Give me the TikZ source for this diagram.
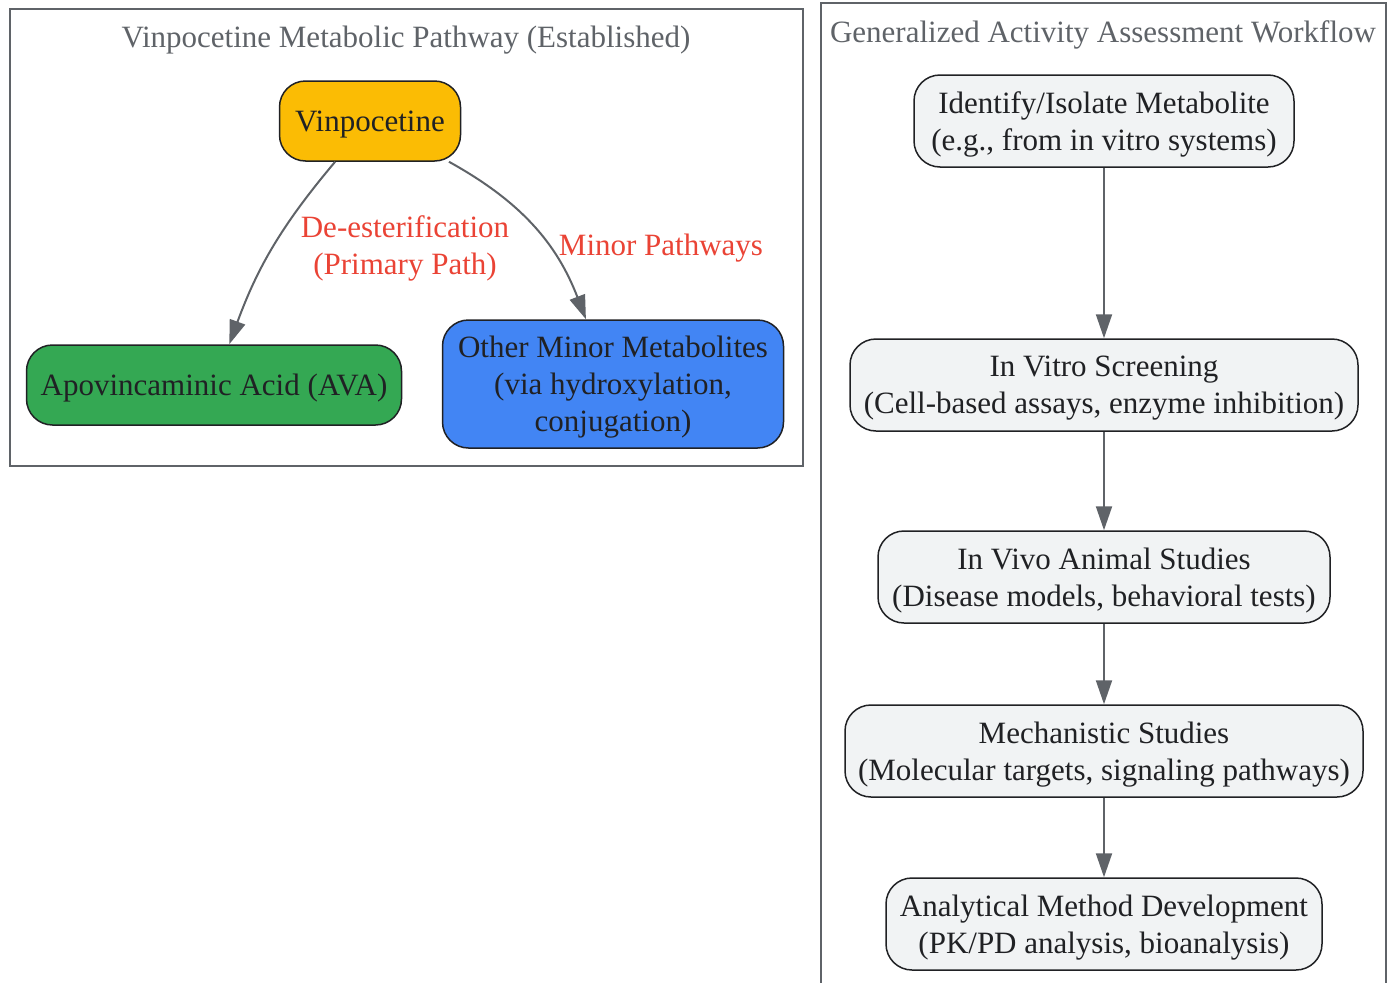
\documentclass[tikz,border=0pt]{standalone}
\usepackage{fontspec}
\setmainfont{Liberation Serif}
\usepackage{xcolor}
\usepackage{tikz}
\usetikzlibrary{arrows.meta}
\definecolor{vyellow}{HTML}{FBBC04}
\definecolor{vgreen}{HTML}{34A853}
\definecolor{vblue}{HTML}{4285F4}
\definecolor{vred}{HTML}{EA4335}
\definecolor{vgray}{HTML}{5F6368}
\definecolor{vpaper}{HTML}{F1F3F4}
\definecolor{vink}{HTML}{202124}
\newcommand{\bigfont}{\fontsize{31}{37}\selectfont}

\begin{document}
\begin{tikzpicture}[x=1pt,y=-1pt,
		box/.style={draw=vink, line width=1.5pt, rounded corners=26pt, align=center, text=vink, font=\bigfont, inner sep=0pt, text depth=0pt},
		wbox/.style={box, fill=vpaper, minimum height=92pt},
		arr/.style={draw=vgray, line width=2pt, -{Triangle[length=24pt,width=16pt]}},
		lbl/.style={text=vred, align=center, font=\bigfont, text depth=0pt},
		ttl/.style={text=vgray, font=\bigfont, text depth=0pt},
		clus/.style={draw=vgray, line width=2pt}]
			\useasboundingbox (0,0) rectangle (1393,983);
			% Vẽ khung
			\draw[clus] (10,9) rectangle (803,466);
			\draw[clus] (821,983) |- (1386,3) -- (1386,983);
			\node[ttl] (t1) at (406,37) {Vinpocetine Metabolic Pathway (Established)};
			\node[ttl] (t2) at (1103,32) {Generalized Activity Assessment Workflow};
			% Vẽ các nút bên trái
			\node[box, fill=vyellow, minimum width=181pt, minimum height=80pt] (vin) at (370,121) {Vinpocetine};
			\node[box, fill=vgreen, minimum width=375pt, minimum height=80pt] (ava) at (214,385) {Apovincaminic Acid (AVA)};
			\node[box, fill=vblue, minimum width=341pt, minimum height=128pt] (oth) at (613,384) {Other Minor Metabolites\\(via hydroxylation,\\conjugation)};
			\draw[arr] (vin) to[bend right=10] (ava);
			\draw[arr] (vin) to[bend left=20] (oth);
			\node[lbl] (l1) at (405,245) {De-esterification\\(Primary Path)};
			\node[lbl] (l2) at (661,245) {Minor Pathways};
			% Vẽ các nút bên phải
			\node[wbox, minimum width=380pt] (s1) at (1104,121) {Identify/Isolate Metabolite\\(e.g., from in vitro systems)};
			\node[wbox, minimum width=508pt] (s2) at (1104,385) {In Vitro Screening\\(Cell-based assays, enzyme inhibition)};
			\node[wbox, minimum width=452pt] (s3) at (1104,577) {In Vivo Animal Studies\\(Disease models, behavioral tests)};
			\node[wbox, minimum width=518pt] (s4) at (1104,751) {Mechanistic Studies\\(Molecular targets, signaling pathways)};
			\node[wbox, minimum width=436pt] (s5) at (1104,924) {Analytical Method Development\\(PK/PD analysis, bioanalysis)};
			\foreach \a/\b in {s1/s2,s2/s3,s3/s4,s4/s5}
			\draw[arr] (\a) -- (\b);
		\end{tikzpicture}
\end{document}
